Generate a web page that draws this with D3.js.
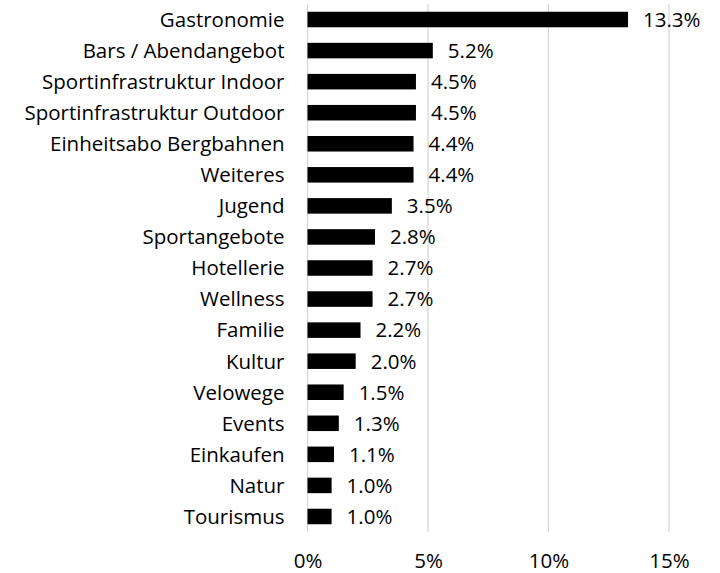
<!DOCTYPE html>
<html>
<head>
<meta charset="utf-8">
<script src="https://cdn.jsdelivr.net/npm/d3@7"></script>
<style>
  body { margin: 0; background: #fff; }
  svg text { font-family: "Open Sans", sans-serif; fill: #000; }
</style>
</head>
<body>
<svg id="chart" width="720" height="573"></svg>
<script>
const categories = [
  "Gastronomie", "Bars / Abendangebot", "Sportinfrastruktur Indoor",
  "Sportinfrastruktur Outdoor", "Einheitsabo Bergbahnen", "Weiteres",
  "Jugend", "Sportangebote", "Hotellerie", "Wellness", "Familie",
  "Kultur", "Velowege", "Events", "Einkaufen", "Natur", "Tourismus"
];
const values = [13.3, 5.2, 4.5, 4.5, 4.4, 4.4, 3.5, 2.8, 2.7, 2.7, 2.2, 2.0, 1.5, 1.3, 1.1, 1.0, 1.0];
const tickValues = [0, 5, 10, 15];

const fontSize = 20.5;
const svg = d3.select("#chart");
const x = d3.scaleLinear().domain([0, 15]).range([307.5, 669]);
const y = d3.scaleBand().domain(categories).range([4, 532]).paddingInner(0.5).paddingOuter(0.25);

// vertical gridlines
svg.append("g").selectAll("line").data(tickValues).join("line")
  .attr("x1", d => x(d)).attr("x2", d => x(d))
  .attr("y1", 4).attr("y2", 532)
  .attr("stroke", "#d9d9d9").attr("stroke-width", 1.3);

// bars
svg.append("g").selectAll("rect").data(values).join("rect")
  .attr("x", x(0))
  .attr("y", (d, i) => y(categories[i]))
  .attr("width", d => x(d) - x(0))
  .attr("height", y.bandwidth())
  .attr("fill", "#000");

// value labels
svg.append("g").selectAll("text").data(values).join("text")
  .attr("x", d => x(d) + 15)
  .attr("y", (d, i) => y(categories[i]) + y.bandwidth() / 2)
  .attr("dy", "0.36em")
  .attr("font-size", fontSize)
  .text(d => d.toFixed(1) + "%");

// category labels
svg.append("g").selectAll("text").data(categories).join("text")
  .attr("x", x(0) - 23)
  .attr("y", d => y(d) + y.bandwidth() / 2)
  .attr("dy", "0.36em")
  .attr("text-anchor", "end")
  .attr("font-size", fontSize)
  .text(d => d);

// x axis
const xAxis = d3.axisBottom(x).tickValues(tickValues).tickFormat(d => d + "%").tickSize(0).tickPadding(0);
const ax = svg.append("g").attr("transform", "translate(0,553)").call(xAxis);
ax.select(".domain").remove();
ax.selectAll("text")
  .attr("font-size", fontSize)
  .attr("font-family", "'Open Sans', sans-serif")
  .attr("fill", "#000")
  .attr("dy", null)
  .attr("y", 14.5);
</script>
</body>
</html>
